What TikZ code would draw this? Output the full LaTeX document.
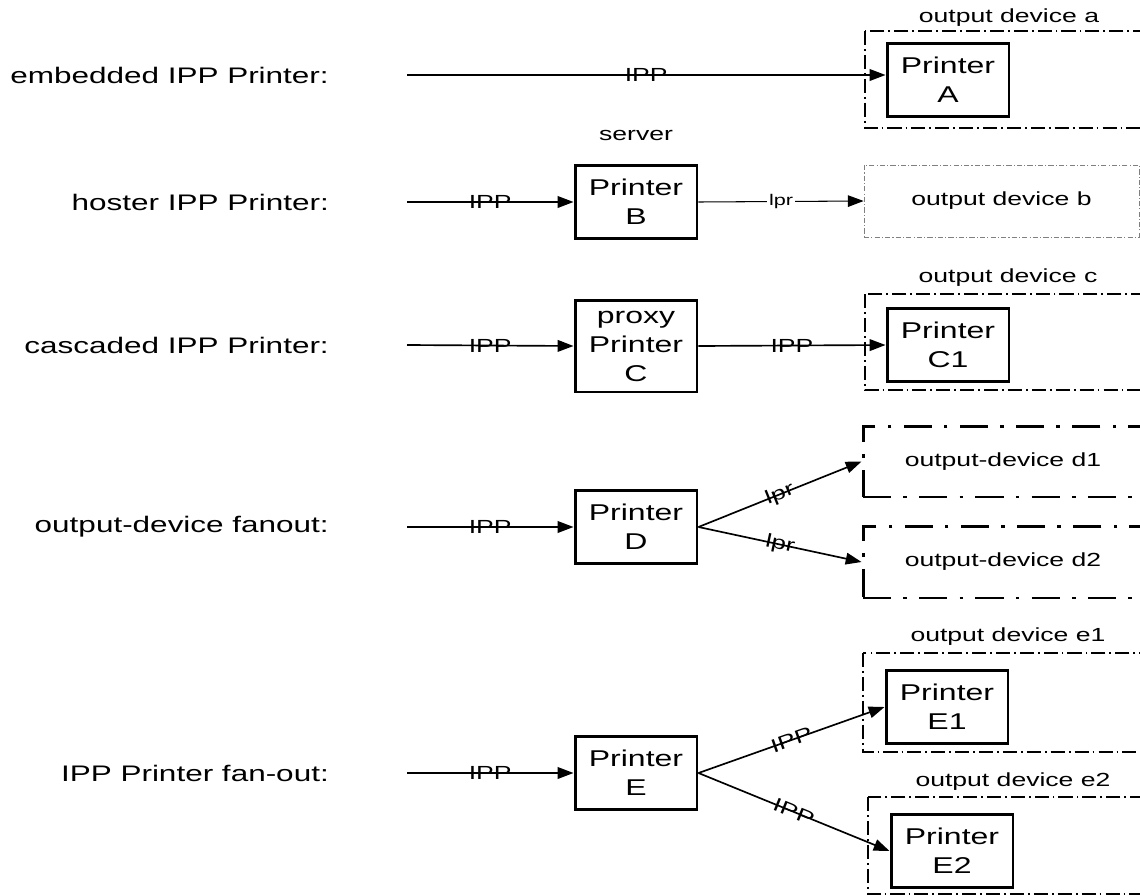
\documentclass[tikz,border=0pt]{standalone}
\usepackage{fontspec}
\setmainfont{Liberation Sans}[FakeStretch=1.4]
\usetikzlibrary{arrows.meta}

\newcommand\boxfont{\fontsize{13}{16.5}\selectfont}
\newcommand\rowfont{\fontsize{12.8}{15}\selectfont}
\newcommand\midfont{\fontsize{10.8}{13}\selectfont}
\newcommand\lprfont{\fontsize{8.8}{10}\selectfont}

\begin{document}
\begin{tikzpicture}[x=0.02cm,y=-0.02cm,
  printer/.style={draw,line width=1.7pt,minimum width=2.44cm,minimum height=1.46cm,
    align=center,font=\boxfont,inner sep=0pt},
  flow/.style={line width=0.95pt,-{Triangle[length=9pt,width=6.6pt]}},
  lbl/.style={font=\midfont,inner sep=0pt},
  frame/.style={line width=0.7pt,dash pattern=on 8pt off 2.3pt on 1pt off 2.3pt},
  thinframe/.style={draw=gray,line width=0.45pt,dash pattern=on 3pt off 1.2pt on 0.6pt off 1.2pt},
  thickframe/.style={draw,line width=1.7pt,dash pattern=on 16pt off 7pt on 2pt off 7pt}]
\useasboundingbox (0,0) rectangle (1140,896);

% row names
\node[anchor=east,font=\rowfont] (tA) at (335,75) {embedded IPP Printer:};
\node[anchor=east,font=\rowfont] (tB) at (335,202) {hoster IPP Printer:};
\node[anchor=east,font=\rowfont] (tC) at (335,345) {cascaded IPP Printer:};
\node[anchor=east,font=\rowfont] (tD) at (335,527) {output-device fanout:};
\node[anchor=east,font=\rowfont] (tE) at (335,773) {IPP Printer fan-out:};

% output device frames
\draw[frame] (865,31) rectangle (1160,128);
\draw[frame] (865,294) rectangle (1160,390);
\draw[frame] (863,653) rectangle (1160,752);
\draw[frame] (868,797) rectangle (1160,894);
\node[font=\midfont] (oA) at (1009,18) {output device a};
\node[font=\midfont] (oC) at (1008,278) {output device c};
\node[font=\midfont] (oE1) at (1008,637) {output device e1};
\node[font=\midfont] (oE2) at (1013,782) {output device e2};

\node[thinframe,minimum width=5.5cm,minimum height=1.44cm,font=\midfont] (devB) at (1001.5,201) {output device b};
\node[thickframe,minimum width=5.6cm,minimum height=1.42cm,font=\midfont] (devD1) at (1003,461.5) {output-device d1};
\node[thickframe,minimum width=5.6cm,minimum height=1.44cm,font=\midfont] (devD2) at (1003,562) {output-device d2};

% printers
\node[font=\midfont] (srv) at (636,135) {server};
\node[printer] (pA) at (948,80) {Printer\\A};
\node[printer] (pB) at (636,202) {Printer\\B};
\node[printer,minimum height=1.84cm] (pC) at (636,346) {proxy\\Printer\\C};
\node[printer] (pC1) at (948,345) {Printer\\C1};
\node[printer] (pD) at (636,527) {Printer\\D};
\node[printer] (pE) at (636,773) {Printer\\E};
\node[printer] (pE1) at (947,707) {Printer\\E1};
\node[printer] (pE2) at (952,851) {Printer\\E2};

% incoming jobs
\coordinate (inA) at (407,75);
\coordinate (inB) at (407,202);
\coordinate (inC) at (407,345);
\coordinate (inD) at (407,527);
\coordinate (inE) at (407,773);

\draw[flow] (inA) -- (inA -| pA.west) node[midway,lbl] {IPP};
\draw[flow] (inB) -- (pB.west) node[midway,lbl] {IPP};
\draw[flow] (inC) -- (pC.west) node[midway,lbl] {IPP};
\draw[flow] (inD) -- (pD.west) node[midway,lbl] {IPP};
\draw[flow] (inE) -- (pE.west) node[midway,lbl] {IPP};

\draw[flow,line width=0.6pt] (pB.east) -- (devB.west) node[midway,fill=white,inner sep=1pt,font=\lprfont] {lpr};
\draw[flow] (pC.east) -- (pC1.west) node[midway,lbl] {IPP};
\draw[flow] (pD.east) -- (devD1.west) node[midway,sloped,lbl] {lpr};
\draw[flow] (pD.east) -- (devD2.west) node[midway,sloped,lbl] {lpr};
\draw[flow] (pE.east) -- (pE1.west) node[midway,sloped,lbl] {IPP};
\draw[flow] (pE.east) -- (pE2.west) node[midway,sloped,lbl] {IPP};
\end{tikzpicture}
\end{document}
